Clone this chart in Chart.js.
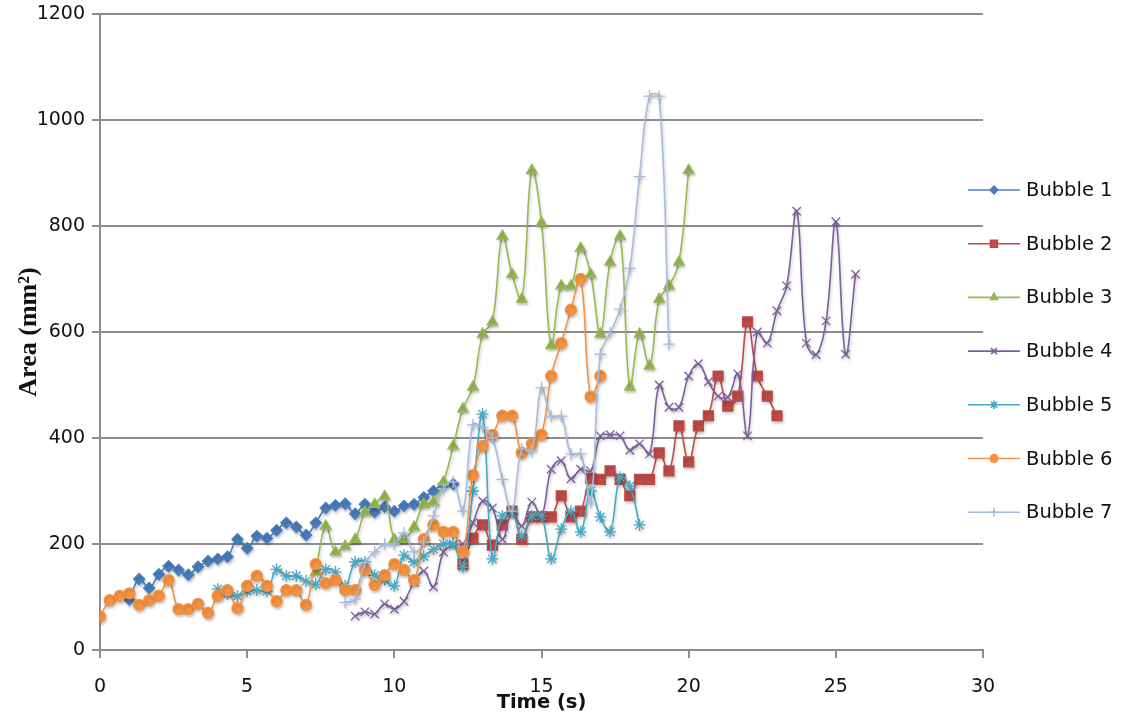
<!DOCTYPE html>
<html>
<head>
<meta charset="utf-8">
<script src="https://cdnjs.cloudflare.com/ajax/libs/Chart.js/4.4.1/chart.umd.min.js"></script>
<style>
  html, body { margin:0; padding:0; background:#fff; }
  #wrap { width:1123px; height:720px; position:relative; }
</style>
</head>
<body>
<div id="wrap"><canvas id="chart" width="1123" height="720"></canvas></div>
<script>
// Sample times (s), one frame every 1/3 s. Each bubble starts at START_INDEX in this list.
const TIME = [0, 0.33, 0.67, 1, 1.33, 1.67, 2, 2.33, 2.67, 3, 3.33, 3.67, 4, 4.33, 4.67, 5, 5.33, 5.67,
  6, 6.33, 6.67, 7, 7.33, 7.67, 8, 8.33, 8.67, 9, 9.33, 9.67, 10, 10.33, 10.67, 11, 11.33, 11.67,
  12, 12.33, 12.67, 13, 13.33, 13.67, 14, 14.33, 14.67, 15, 15.33, 15.67, 16, 16.33, 16.67, 17, 17.33, 17.67,
  18, 18.33, 18.67, 19, 19.33, 19.67, 20, 20.33, 20.67, 21, 21.33, 21.67, 22, 22.33, 22.67, 23, 23.33, 23.67,
  24, 24.33, 24.67, 25, 25.33, 25.67];

const NAMES = ['Bubble 1','Bubble 2','Bubble 3','Bubble 4','Bubble 5','Bubble 6','Bubble 7'];
const START_INDEX = [3, 37, 22, 26, 12, 0, 25];

// Area (mm²) per frame
const BUBBLE1 = [95, 134, 117, 143, 158, 151, 142, 157, 168, 172, 176, 209, 192, 215, 211, 226, 240, 232,
  217, 240, 268, 273, 276, 257, 275, 260, 270, 262, 272, 275, 288, 300, 313, 313];
const BUBBLE2 = [162, 211, 236, 198, 236, 262, 209, 251, 251, 251, 291, 251, 262, 324, 322, 338, 322, 291,
  322, 322, 372, 338, 423, 355, 423, 442, 517, 460, 479, 619, 517, 479, 442];
const BUBBLE3 = [147, 234, 185, 196, 209, 260, 275, 290, 209, 209, 232, 275, 279, 317, 385, 455, 496, 596,
  619, 781, 709, 662, 905, 806, 575, 687, 687, 758, 709, 596, 732, 781, 496, 596, 536, 662, 687, 732, 905];
const BUBBLE4 = [64, 72, 68, 87, 77, 92, 128, 149, 119, 185, 198, 200, 240, 281, 268, 209, 260, 234, 279, 253,
  341, 357, 323, 341, 338, 404, 406, 404, 377, 389, 370, 500, 458, 458, 517, 540, 506, 479, 477, 521,
  404, 600, 579, 640, 687, 828, 579, 557, 621, 808, 558, 709];
const BUBBLE5 = [115, 106, 102, 111, 113, 111, 152, 140, 140, 130, 124, 152, 147, 121, 166, 166, 141, 132,
  121, 179, 166, 177, 190, 200, 200, 156, 300, 445, 172, 253, 260, 215, 253, 253, 172, 228, 262, 223,
  300, 251, 223, 326, 309, 236];
const BUBBLE6 = [63, 94, 102, 107, 85, 94, 102, 132, 77, 77, 87, 70, 102, 113, 79, 121, 140, 121, 92, 113,
  113, 85, 162, 126, 132, 113, 113, 151, 123, 141, 162, 151, 132, 209, 236, 223, 223, 185, 330, 385,
  406, 442, 442, 372, 389, 406, 517, 579, 642, 700, 478, 517];
const BUBBLE7 = [90, 96, 165, 185, 200, 200, 221, 185, 204, 253, 304, 317, 262, 425, 420, 400, 322, 262,
  379, 375, 495, 441, 441, 370, 370, 279, 558, 598, 643, 720, 893, 1045, 1045, 577];

const VALUES = [BUBBLE1, BUBBLE2, BUBBLE3, BUBBLE4, BUBBLE5, BUBBLE6, BUBBLE7];
const COLORS = ['#4a7ebb', '#be4b48', '#98b954', '#7d5fa0', '#46aac4', '#f59343', '#a9bcde'];
const MARKERS = ['rectRot', 'rect', 'triangle', 'crossRot', 'star', 'circle', 'cross'];
const RADII = [5.5, 7, 6, 6, 6, 5.5, 6];

const Y_TICKS = [0, 200, 400, 600, 800, 1000, 1200];
const X_TICKS = [0, 5, 10, 15, 20, 25, 30];

const GRID = '#8d8d8d';
const TICK_FONT = {family:'"DejaVu Sans", sans-serif', size:19};

const datasets = VALUES.map((vals, i) => ({
  label: NAMES[i],
  data: vals.map((v, k) => ({x: TIME[START_INDEX[i] + k], y: v})),
  borderColor: COLORS[i],
  backgroundColor: COLORS[i],
  borderWidth: 1.6,
  tension: 0.4,
  pointStyle: MARKERS[i],
  pointRadius: RADII[i],
  pointBackgroundColor: COLORS[i],
  pointBorderColor: COLORS[i],
  pointBorderWidth: 1.3,
  order: 7 - i,            // later bubbles sit on top, as in the original
}));

// soft drop shadow under the series, like the old Excel look
const shadowPlugin = {
  id:'shadow',
  beforeDatasetsDraw(chart){ const c=chart.ctx; c.save();
    c.shadowColor='rgba(0,0,0,0.22)'; c.shadowBlur=3; c.shadowOffsetX=1; c.shadowOffsetY=2; },
  afterDatasetsDraw(chart){ chart.ctx.restore(); },
};

// legend drawn by hand: short line with the marker in the middle, then the name
const legendPlugin = {
  id:'sideLegend',
  afterDraw(chart){
    const c = chart.ctx;
    c.save();
    NAMES.forEach((name, i) => {
      const y = 190 + i * 53.7;
      c.strokeStyle = COLORS[i]; c.lineWidth = 1.6;
      c.beginPath(); c.moveTo(968, y); c.lineTo(1020, y); c.stroke();
      c.fillStyle = COLORS[i];
      Chart.helpers.drawPoint(c, {pointStyle: MARKERS[i], radius: RADII[i] * 0.7, borderWidth: 1.2, rotation: 0}, 994, y);
      c.fillStyle = '#111';
      c.font = '19.5px "DejaVu Sans", sans-serif';
      c.textBaseline = 'middle'; c.textAlign = 'left';
      c.fillText(name, 1026, y + 1);
    });
    c.restore();
  }
};

new Chart(document.getElementById('chart'), {
  type: 'line',
  data: { datasets },
  plugins: [shadowPlugin, legendPlugin],
  options: {
    responsive: false,
    animation: false,
    devicePixelRatio: 1,
    layout: { padding: {top: 14, right: 140, bottom: 0, left: 0} },
    plugins: { legend: {display: false}, tooltip: {enabled: false} },
    scales: {
      x: {
        type: 'linear', min: 0, max: 30,
        afterBuildTicks: s => { s.ticks = X_TICKS.map(v => ({value: v})); },
        afterFit: s => { s.height = 70; s.paddingLeft = 0; s.paddingRight = 0; },
        ticks: {color: '#111', font: TICK_FONT, padding: 18, callback: v => String(v)},
        grid: {drawOnChartArea: false, drawTicks: true, tickLength: 8, color: GRID, lineWidth: 2},
        border: {display: true, color: GRID, width: 2},
        title: {display: true, text: 'Time (s)', color: '#111',
          font: {family: '"DejaVu Sans", sans-serif', size: 19.5, weight: 'bold'},
          padding: {top: 0, bottom: 5}},
      },
      y: {
        type: 'linear', min: 0, max: 1200,
        afterBuildTicks: s => { s.ticks = Y_TICKS.map(v => ({value: v})); },
        afterFit: s => { s.width = 100; s.paddingTop = 0; s.paddingBottom = 0; },
        ticks: {color: '#111', font: TICK_FONT, padding: 7, callback: v => String(v)},
        grid: {drawTicks: true, tickLength: 8, color: GRID, lineWidth: 2},
        border: {display: true, color: GRID, width: 2},
        title: {display: true, text: 'Area (mm²)', color: '#111',
          font: {family: '"Liberation Serif", "Times New Roman", serif', size: 26, weight: 'bold'},
          padding: {top: 14, bottom: 0}},
      },
    },
  },
});
</script>
</body>
</html>
